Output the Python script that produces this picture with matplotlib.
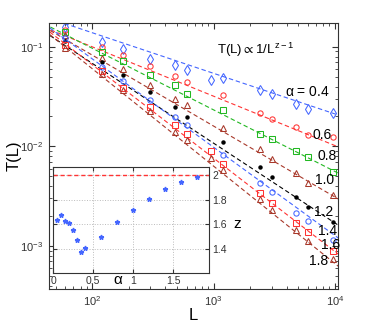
import numpy as np
import matplotlib
matplotlib.use("Agg")
import matplotlib.pyplot as plt

plt.rcParams['font.family'] = ['Liberation Sans', 'DejaVu Sans']
plt.rcParams['mathtext.default'] = 'regular'

# series: alpha values and their markers
alphas = [0.4, 0.6, 0.8, 1.0, 1.2, 1.4, 1.6, 1.8]
colors = ['#4466ff', '#ff3333', '#22b822', '#a8382a', 'black', '#4466ff', '#ff3333', '#a8382a']
markers = ['d', 'o', 's', '^', 'o', 'o', 's', '^']

L_long = [60, 120, 180, 300, 480, 600, 960, 1200, 2400, 3000, 4800, 6000, 9600]
L_short = [60, 120, 180, 300, 480, 600, 1200, 2400, 3000, 4800, 6000, 9600]

T_04 = [0.159, 0.111, 0.0955, 0.0752, 0.0659, 0.0583, 0.0466, 0.0482, 0.0372, 0.0335, 0.0269, 0.0237, 0.0215]
T_06 = [0.148, 0.100, 0.0825, 0.0644, 0.0511, 0.0445, 0.0326, 0.0215, 0.0187, 0.0156, 0.0129, 0.01255]
T_08 = [0.1415, 0.0891, 0.0715, 0.0527, 0.0410, 0.0337, 0.0233, 0.01335, 0.01198, 0.00908, 0.00790, 0.00558]
T_10 = [0.132, 0.0775, 0.0601, 0.0415, 0.0297, 0.0261, 0.01534, 0.00937, 0.00744, 0.00538, 0.00427, 0.00326]
T_12 = [0.1149, 0.0699, 0.0523, 0.0350, 0.0248, 0.01993, 0.01117, 0.00618, 0.00490, 0.00313, 0.00248, 0.00174]
T_14 = [0.1231, 0.0634, 0.0450, 0.0293, 0.01966, 0.01645, 0.00822, 0.00427, 0.00346, 0.00216, 0.00177, 0.00115]
T_16 = [0.1047, 0.0574, 0.0390, 0.0249, 0.01645, 0.01335, 0.00908, 0.00667, 0.00343, 0.00272, 0.00169, 0.00139, 0.000891]
T_18 = [0.0966, 0.0529, 0.0370, 0.0227, 0.01408, 0.01162, 0.00761, 0.00580, 0.00295, 0.00230, 0.00145, 0.00112, 0.000735]

L_sets = [L_long, L_short, L_short, L_short, L_short, L_short, L_long, L_long]
T_sets = [T_04, T_06, T_08, T_10, T_12, T_14, T_16, T_18]

# fit amplitude: value of the fitted line at L = 1e4
fit_amp = [0.0212, 0.0102, 0.0056, 0.0031, 0.0017, 0.00127, 0.000877, 0.000665]

# inset: dynamic exponent z vs alpha
alpha_in = [0.05, 0.1, 0.15, 0.2, 0.25, 0.3, 0.35, 0.4, 0.6, 0.8, 1.0, 1.2, 1.4, 1.6, 1.8]
z_in = [1.635, 1.673, 1.627, 1.611, 1.558, 1.475, 1.375, 1.408, 1.496, 1.619, 1.713, 1.802, 1.888, 1.939, 1.979]
z_fit = dict(zip(alpha_in, z_in))

fig = plt.figure(figsize=(3.74, 3.28), dpi=100)
ax = fig.add_axes([0.131, 0.119, 0.773, 0.811])

Lfit = np.logspace(np.log10(40), np.log10(1.1e4), 50)
for a, c, m, Ls, Ts, A in zip(alphas, colors, markers, L_sets, T_sets, fit_amp):
    z = z_fit[a]
    ax.plot(Lfit, A * (Lfit / 1e4) ** (-(z - 1)), color=c, ls=(0, (4, 2.5)), lw=0.8)
    if a == 1.2:
        ax.plot(Ls, Ts, ls='none', marker='o', ms=2.2, color=c)
    else:
        ms = 5 if m == 'd' else 3.8
        ax.plot(Ls, Ts, ls='none', marker=m, ms=ms, mfc='none', mec=c, mew=0.75)

ax.set_xscale('log')
ax.set_yscale('log')
ax.set_xlim(44, 1.06e4)
ax.set_ylim(3.7e-4, 0.174)
ax.tick_params(which='both', direction='in', top=True, right=True, labelsize=8, colors='#333333')
ax.tick_params(which='major', length=4, pad=4)
ax.tick_params(which='minor', length=2)
for s in ax.spines.values():
    s.set_color('#333333')
ax.set_xlabel('L', fontsize=12, labelpad=0)
ax.set_ylabel('T(L)', fontsize=12, labelpad=-1)

ax.text(0.581, 0.898, r'T(L)$\propto$1/L$^{z-1}$', transform=ax.transAxes, fontsize=9.5, va='center')
ax.text(0.817, 0.742, r'$\alpha$ = 0.4', transform=ax.transAxes, fontsize=10, va='center')
lab_pos = [(0.913, 0.579, '0.6'), (0.928, 0.498, '0.8'), (0.920, 0.408, '1.0'),
           (0.918, 0.290, '1.2'), (0.931, 0.218, '1.4'), (0.942, 0.165, '1.6'), (0.899, 0.105, '1.8')]
for x, y, t in lab_pos:
    ax.text(x, y, t, transform=ax.transAxes, fontsize=10, va='center')

# inset
ins = fig.add_axes([0.1425, 0.168, 0.417, 0.322])
ins.plot(alpha_in, z_in, ls='none', marker='*', ms=3.5, color='#4466ff')
ins.axhline(2, color='#ff3333', ls=(0, (3, 2)), lw=1)
ins.set_xlim(0, 1.95)
ins.set_ylim(1.21, 2.06)
ins.set_xticks([0, 0.5, 1, 1.5])
ins.set_xticklabels(['0', '0.5', '1', '1.5'])
ins.set_yticks([1.4, 1.6, 1.8, 2])
ins.set_yticklabels(['1.4', '1.6', '1.8', '2'])
ins.yaxis.tick_right()
ins.tick_params(direction='in', labelsize=7.5, length=3, pad=2, left=True, right=True, top=True, colors='#333333')
ins.grid(True, ls=':', color='#bbbbbb', lw=0.7)
for s in ins.spines.values():
    s.set_color('#333333')
ins.text(0.415, -0.07, r'$\alpha$', transform=ins.transAxes, fontsize=11, ha='center', va='center')
ins.text(1.18, 0.464, 'z', transform=ins.transAxes, fontsize=11, ha='center', va='center')

fig.savefig('out.png', dpi=100)
